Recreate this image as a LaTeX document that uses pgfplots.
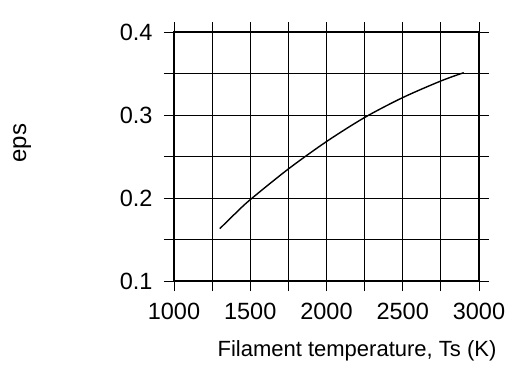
\documentclass[border=0pt]{standalone}
\usepackage{fontspec}
\setmainfont{Liberation Sans}
\usepackage{pgfplots}
\pgfplotsset{compat=1.18}
\begin{document}
\begin{tikzpicture}
\useasboundingbox (-174pt,-107pt) rectangle (332pt,281pt);
\begin{axis}[
  at={(0,0)}, anchor=south west,
  scale only axis, width=305pt, height=249pt,
  xmin=1000, xmax=3000, ymin=0.1, ymax=0.4,
  xtick={1000,1500,...,3000}, minor xtick={1250,1750,2250,2750},
  ytick={0.1,0.2,0.3,0.4}, minor ytick={0.15,0.25,0.35},
  grid=both,
  major grid style={black, line width=0.8pt},
  minor grid style={black, line width=0.8pt},
  axis line style={black, line width=1.4pt},
  tick align=outside,
  major tick length=10pt, minor tick length=10pt,
  every tick/.style={black, line width=0.8pt},
  /pgf/number format/assume math mode=true,
  tick label style={font=\fontsize{23.5}{27}\selectfont},
  label style={font=\fontsize{22}{26}\selectfont},
  xticklabel style={/pgf/number format/1000 sep={}, yshift=-9pt},
  yticklabel style={/pgf/number format/fixed, /pgf/number format/precision=1, /pgf/number format/fixed zerofill, xshift=-8pt},
  xlabel={Filament temperature, Ts (K)},
  ylabel={eps},
  xlabel style={at={(axis description cs:0.60,-0.282)}, anchor=center},
  ylabel style={at={(axis description cs:-0.498,0.554)}, anchor=center, font=\fontsize{24}{27}\selectfont},
]
\addplot[black, line width=1.4pt, smooth] coordinates {
  (1300,0.163) (1400,0.181) (1500,0.198) (1750,0.235) (2000,0.268)
  (2250,0.297) (2500,0.321) (2750,0.341) (2900,0.351)
};
\end{axis}
\end{tikzpicture}
\end{document}
